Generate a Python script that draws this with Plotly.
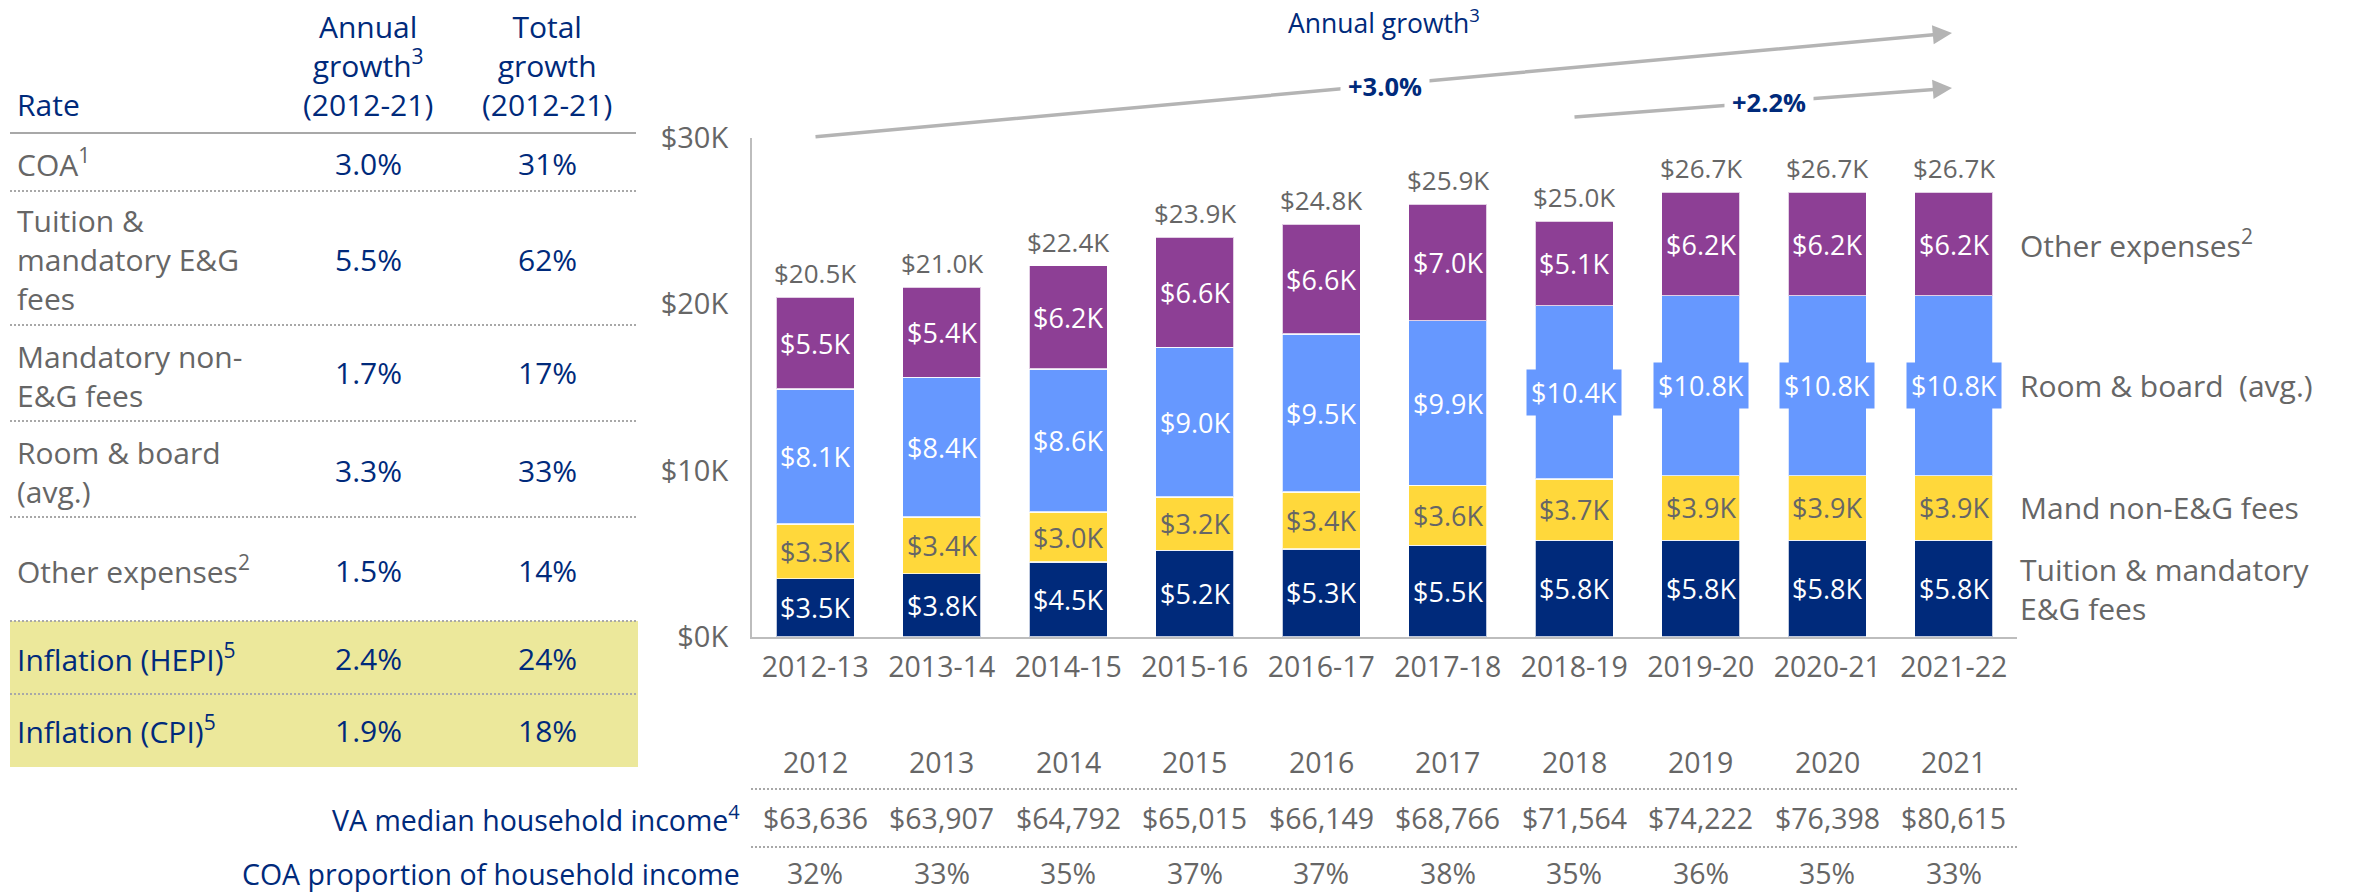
import plotly.graph_objects as go

W, H = 2353, 893

# ---------------- data ----------------
years = ["2012-13", "2013-14", "2014-15", "2015-16", "2016-17",
         "2017-18", "2018-19", "2019-20", "2020-21", "2021-22"]
tuition = [3.5, 3.8, 4.5, 5.2, 5.3, 5.5, 5.8, 5.8, 5.8, 5.8]
mand_non_eg = [3.3, 3.4, 3.0, 3.2, 3.4, 3.6, 3.7, 3.9, 3.9, 3.9]
room_board = [8.1, 8.4, 8.6, 9.0, 9.5, 9.9, 10.4, 10.8, 10.8, 10.8]
other_exp = [5.5, 5.4, 6.2, 6.6, 6.6, 7.0, 5.1, 6.2, 6.2, 6.2]
totals = [20.5, 21.0, 22.4, 23.9, 24.8, 25.9, 25.0, 26.7, 26.7, 26.7]

cal_years = ["2012", "2013", "2014", "2015", "2016", "2017", "2018", "2019", "2020", "2021"]
va_income = [63636, 63907, 64792, 65015, 66149, 68766, 71564, 74222, 76398, 80615]
coa_share = [32, 33, 35, 37, 37, 38, 35, 36, 35, 33]

rate_rows = ["COA<sup>1</sup>", "Tuition &<br>mandatory E&G<br>fees", "Mandatory non-<br>E&G fees",
             "Room & board<br>(avg.)", "Other expenses<sup>2</sup>",
             "Inflation (HEPI)<sup>5</sup>", "Inflation (CPI)<sup>5</sup>"]
annual_growth = [3.0, 5.5, 1.7, 3.3, 1.5, 2.4, 1.9]
total_growth = [31, 62, 17, 33, 14, 24, 18]

segment_names = ["Tuition & mandatory<br>E&G fees", "Mand non-E&G fees",
                 "Room & board  (avg.)", "Other expenses<sup>2</sup>"]

growth_all = 3.0
growth_recent = 2.2

# ---------------- style ----------------
FONT = "Open Sans"
NAVY = "#002A7B"
YELLOW = "#FFD83B"
BLUE = "#6698FF"
PURPLE = "#8D3F95"
GRAY = "#666666"
LINE = "#BDBDBD"
HILITE = "#ECE89B"
seg_colors = [NAVY, YELLOW, BLUE, PURPLE]
seg_text = ["white", GRAY, "white", "white"]
TBL = 30  # left-table font size


def px(p):
    return p / W


def py(p):
    return 1 - p / H


def txt(x, y, text, size=29, color=GRAY, xanchor="center", **kw):
    d = dict(x=x, y=y, xref="paper", yref="paper", text=text, showarrow=False,
             xanchor=xanchor, yanchor="middle", font=dict(family=FONT, size=size, color=color))
    d.update(kw)
    return d


fig = go.Figure()
series = [tuition, mand_non_eg, room_board, other_exp]
for name, vals, col in zip(segment_names, series, seg_colors):
    fig.add_trace(go.Bar(
        x=years, y=vals, name=name, marker_color=col,
        marker_line=dict(color="rgba(255,255,255,0.75)", width=1.5),
        width=0.62, hoverinfo="skip", showlegend=False))

ann = []
# segment labels
base = [0.0] * len(years)
for si, vals in enumerate(series):
    for i, v in enumerate(vals):
        a = dict(x=years[i], y=base[i] + v / 2, xref="x", yref="y",
                 xanchor="center", yanchor="middle",
                 text=f"${v:.1f}K", showarrow=False,
                 font=dict(family=FONT, size=27, color=seg_text[si]))
        if v >= 10:  # label wider than the bar: boxed like the original
            a["bgcolor"] = seg_colors[si]
            a["borderpad"] = 4
        ann.append(a)
        base[i] += v

# total labels
for i, t in enumerate(totals):
    ann.append(dict(x=years[i], y=base[i], xref="x", yref="y", xanchor="center", yanchor="bottom",
                    yshift=4, text=f"${t:.1f}K", showarrow=False,
                    font=dict(family=FONT, size=26, color=GRAY)))

# right-side series names, aligned to last bar's segments
b = 0.0
for si, vals in enumerate(series):
    v = vals[-1]
    ann.append(dict(x=years[-1], y=b + v / 2, xref="x", yref="y", xanchor="left", yanchor="middle",
                    xshift=64, align="left", text=segment_names[si], showarrow=False,
                    font=dict(family=FONT, size=30, color=GRAY)))
    b += v

# bottom table
for i in range(len(years)):
    for yy, t in [(762, cal_years[i]), (818, f"${va_income[i]:,}"), (873, f"{coa_share[i]}%")]:
        ann.append(dict(x=years[i], y=py(yy), xref="x", yref="paper", text=t,
                        xanchor="center", yanchor="middle", showarrow=False,
                        font=dict(family=FONT, size=28.5, color=GRAY)))
ann.append(txt(px(742), py(818), "VA median household income<sup>4</sup>", size=28.5, color=NAVY,
               xanchor="right"))
ann.append(txt(px(742), py(874), "COA proportion of household income", size=28.5, color=NAVY,
               xanchor="right"))

# left table headers
ann.append(txt(px(15), py(105), "Rate", size=TBL, color=NAVY, xanchor="left"))
ann.append(txt(px(368), py(66), "Annual<br>growth<sup>3</sup><br>(2012-21)", size=TBL, color=NAVY))
ann.append(txt(px(547), py(66), "Total<br>growth<br>(2012-21)", size=TBL, color=NAVY))

row_label_y = [163, 260, 376, 472, 570, 658, 730]
row_value_y = [163, 260, 373, 470, 570, 658, 730]
for r, lab in enumerate(rate_rows):
    lab_col = NAVY if r >= 5 else GRAY
    ann.append(txt(px(15), py(row_label_y[r]), lab, size=TBL, color=lab_col, xanchor="left",
                   align="left"))
    ann.append(txt(px(368), py(row_value_y[r]), f"{annual_growth[r]:.1f}%", size=TBL, color=NAVY))
    ann.append(txt(px(547), py(row_value_y[r]), f"{total_growth[r]}%", size=TBL, color=NAVY))

# growth arrows
ARROW = "#B4B4B4"
ann.append(dict(x=px(1952), y=py(33), xref="paper", yref="paper", ax=814 - 1952, ay=137 - 33,
                axref="pixel", ayref="pixel", text="", showarrow=True, arrowhead=2,
                arrowsize=1.1, arrowwidth=3.5, arrowcolor=ARROW, standoff=0))
ann.append(dict(x=px(1952), y=py(88), xref="paper", yref="paper", ax=1573 - 1952, ay=117 - 88,
                axref="pixel", ayref="pixel", text="", showarrow=True, arrowhead=2,
                arrowsize=1.1, arrowwidth=3.5, arrowcolor=ARROW, standoff=0))
ann.append(txt(px(1385), py(86), f"<b>+{growth_all:.1f}%</b>", size=25.5, color=NAVY,
               bgcolor="white", borderpad=7))
ann.append(txt(px(1769), py(102), f"<b>+{growth_recent:.1f}%</b>", size=25.5, color=NAVY,
               bgcolor="white", borderpad=7))
ann.append(txt(px(1384), py(21), "Annual growth<sup>3</sup>", size=26.5, color=NAVY))

# shapes: left table lines & highlight, bottom table dotted lines
shapes = [
    dict(type="rect", xref="paper", yref="paper", x0=px(10), x1=px(638), y0=py(767), y1=py(621),
         fillcolor=HILITE, line=dict(width=0), layer="below"),
    dict(type="line", xref="paper", yref="paper", x0=px(10), x1=px(636), y0=py(133), y1=py(133),
         line=dict(color="#A8A8A8", width=2)),
]
for yy in [191, 325, 421, 517, 621, 694]:
    shapes.append(dict(type="line", xref="paper", yref="paper", x0=px(10), x1=px(636),
                       y0=py(yy), y1=py(yy), line=dict(color="#A8A8A8", width=2, dash="2px,2px")))
for yy in [789, 847]:
    shapes.append(dict(type="line", xref="paper", yref="paper", x0=px(751), x1=px(2018),
                       y0=py(yy), y1=py(yy), line=dict(color="#A8A8A8", width=2, dash="2px,2px")))

fig.update_layout(
    width=W, height=H, margin=dict(l=0, r=0, t=0, b=0, pad=0), autosize=False,
    paper_bgcolor="white", plot_bgcolor="white",
    barmode="stack", bargap=0.38,
    font=dict(family=FONT, color=GRAY),
    annotations=ann, shapes=shapes,
    xaxis=dict(type="category", domain=[px(752), px(2017)], range=[-0.5, 9.5], automargin=False,
               showline=True, linecolor=LINE, linewidth=2, showgrid=False, ticks="",
               tickfont=dict(family=FONT, size=28.5, color=GRAY), ticklabelstandoff=4),
    yaxis=dict(domain=[py(637), py(137.5)], range=[0, 30], dtick=10, automargin=False,
               tickprefix="$", ticksuffix="K", showline=True, linecolor=LINE, linewidth=2,
               showgrid=False, zeroline=False, ticks="",
               tickfont=dict(family=FONT, size=29, color=GRAY), ticklabelstandoff=16),
)

fig.write_html("out.html", config={"displayModeBar": False},
               post_script="document.body.style.margin='0px';")
